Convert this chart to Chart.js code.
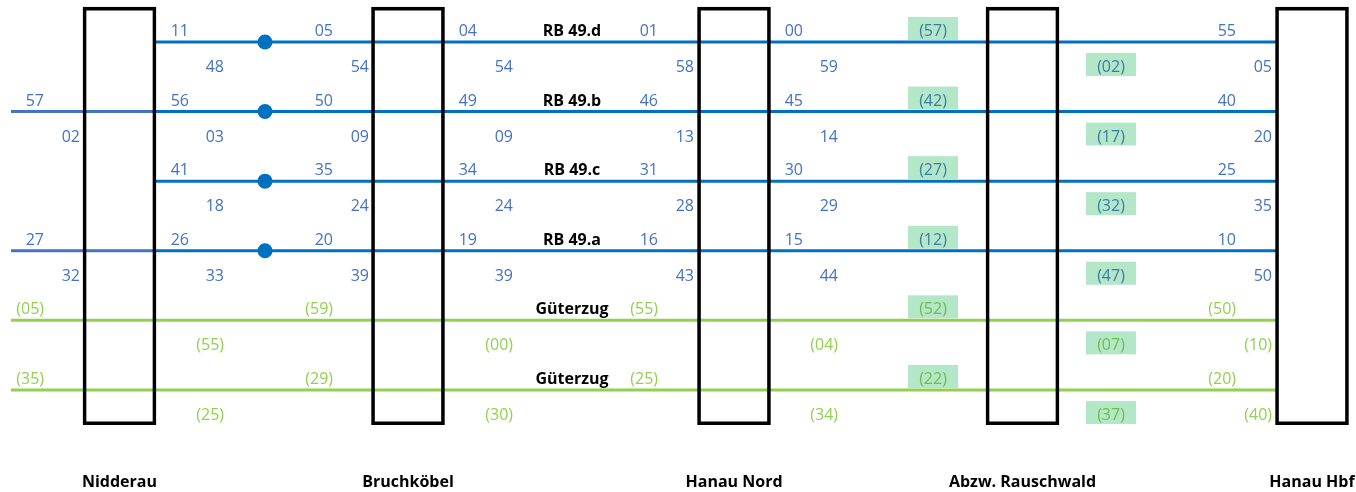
<!DOCTYPE html>
<html>
<head>
<meta charset="utf-8">
<script src="https://cdn.jsdelivr.net/npm/chart.js@4"></script>
<style>
  body { margin: 0; background: #fff; }
  #wrap { width: 1356px; height: 492px; position: relative; }
</style>
</head>
<body>
<div id="wrap"><canvas id="diagram"></canvas></div>
<script>
// stations left to right, trains top to bottom
const stations = ['Nidderau', 'Bruchköbel', 'Hanau Nord', 'Abzw. Rauschwald', 'Hanau Hbf'];
const trains = ['RB 49.d', 'RB 49.b', 'RB 49.c', 'RB 49.a', 'Güterzug', 'Güterzug'];
const freight = [false, false, false, false, true, true];

// minutes written above each line (one entry per column, null = empty)
const timesTop = [
  [null, '11', '05', '04', '01', '00', '(57)', '55'],
  ['57', '56', '50', '49', '46', '45', '(42)', '40'],
  [null, '41', '35', '34', '31', '30', '(27)', '25'],
  ['27', '26', '20', '19', '16', '15', '(12)', '10'],
  ['(05)', null, '(59)', null, '(55)', null, '(52)', '(50)'],
  ['(35)', null, '(29)', null, '(25)', null, '(22)', '(20)']
];
// minutes written below each line
const timesBottom = [
  [null, '48', '54', '54', '58', '59', '(02)', '05'],
  ['02', '03', '09', '09', '13', '14', '(17)', '20'],
  [null, '18', '24', '24', '28', '29', '(32)', '35'],
  ['32', '33', '39', '39', '43', '44', '(47)', '50'],
  [null, '(55)', null, '(00)', null, '(04)', '(07)', '(10)'],
  [null, '(25)', null, '(30)', null, '(34)', '(37)', '(40)']
];

// layout (schematic x units)
const stationX = [119.5, 408, 734, 1022.5, 1312];
const boxHalf = 36;
const colTop = [44, 189, 333, 477, 658, 803, 933, 1236];
const colBottom = [80, 224, 369, 513, 694, 838, 1111, 1272];
const markedCol = 6;   // Rauschwald column, green background
const nameX = 572;
const dotX = 265;
const lineStart = 11;
const lineEnd = stationX[4] - boxHalf;

const BLUE = '#0070C0';
const BLUE_LIGHT = '#4472C4';
const GREEN = '#92D050';
const FONT = '"Open Sans", "Noto Sans", sans-serif';

// one line dataset per train
let lineSets = trains.map((t, i) => {
  let pts = [];
  if (freight[i] || timesTop[i][0] !== null) pts.push({ x: lineStart, y: i });
  pts.push({ x: stationX[0] + boxHalf, y: i });
  pts.push({ x: lineEnd, y: i });
  const main = freight[i] ? GREEN : BLUE;
  const hasLead = pts.length === 3 && !freight[i];
  return {
    type: 'line',
    label: t,
    data: pts,
    borderColor: main,
    borderWidth: 3,
    pointRadius: 0,
    showLine: true,
    order: 3,
    segment: {
      borderColor: ctx => (hasLead && ctx.p0DataIndex === 0) ? BLUE_LIGHT : main
    }
  };
});

let dotSet = {
  type: 'scatter',
  label: 'dots',
  data: trains.map((t, i) => freight[i] ? null : { x: dotX, y: i }).filter(p => p),
  backgroundColor: BLUE,
  borderWidth: 0,
  pointRadius: 7.5,
  order: 2
};

let boxSet = {
  type: 'bar',
  label: 'stations',
  data: stations.map((s, k) => ({ x: stationX[k], y: [-0.5, trains.length - 0.5] })),
  backgroundColor: 'rgba(0,0,0,0)',
  borderColor: '#000',
  borderWidth: 3,
  borderSkipped: false,
  barThickness: 73,
  order: 1
};

function drawRow(ctx, xs, texts, cols, baseY, i) {
  texts.forEach((txt, k) => {
    if (txt === null) return;
    const x = xs.getPixelForValue(cols[k]);
    if (k === markedCol) {
      ctx.fillStyle = '#B4E6C8';
      ctx.fillRect(x - 25, baseY - 19, 50, 23);
      ctx.textAlign = 'center';
      ctx.fillStyle = freight[i] ? '#6CBF48' : '#3A7CA8';
    } else {
      ctx.textAlign = 'right';
      ctx.fillStyle = freight[i] ? GREEN : BLUE_LIGHT;
    }
    ctx.font = '16px ' + FONT;
    ctx.fillText(txt, x, baseY);
  });
}

const labelPlugin = {
  id: 'timetableLabels',
  afterDatasetsDraw(chart) {
    const ctx = chart.ctx;
    const xs = chart.scales.x, ys = chart.scales.y;
    ctx.save();
    ctx.textBaseline = 'alphabetic';
    trains.forEach((t, i) => {
      const yLine = ys.getPixelForValue(i);
      ctx.font = 'bold 16px ' + FONT;
      ctx.fillStyle = '#000';
      ctx.textAlign = 'center';
      ctx.fillText(t, xs.getPixelForValue(nameX), yLine - 6);
      drawRow(ctx, xs, timesTop[i], colTop, yLine - 6, i);
      drawRow(ctx, xs, timesBottom[i], colBottom, yLine + 30, i);
    });
    ctx.font = 'bold 16px ' + FONT;
    ctx.fillStyle = '#000';
    ctx.textAlign = 'center';
    stations.forEach((s, k) => {
      ctx.fillText(s, xs.getPixelForValue(stationX[k]), chart.height - 5);
    });
    ctx.restore();
  }
};

new Chart(document.getElementById('diagram'), {
  type: 'bar',
  data: { datasets: [...lineSets, dotSet, boxSet] },
  options: {
    responsive: true,
    maintainAspectRatio: false,
    animation: false,
    events: [],
    layout: { padding: 0, autoPadding: false },
    scales: {
      x: { type: 'linear', min: 0, max: 1356, offset: false, display: false },
      y: { type: 'linear', min: -0.603, max: 6.466, reverse: true, display: false }
    },
    plugins: {
      legend: { display: false },
      tooltip: { enabled: false }
    }
  },
  plugins: [labelPlugin]
});
</script>
</body>
</html>
